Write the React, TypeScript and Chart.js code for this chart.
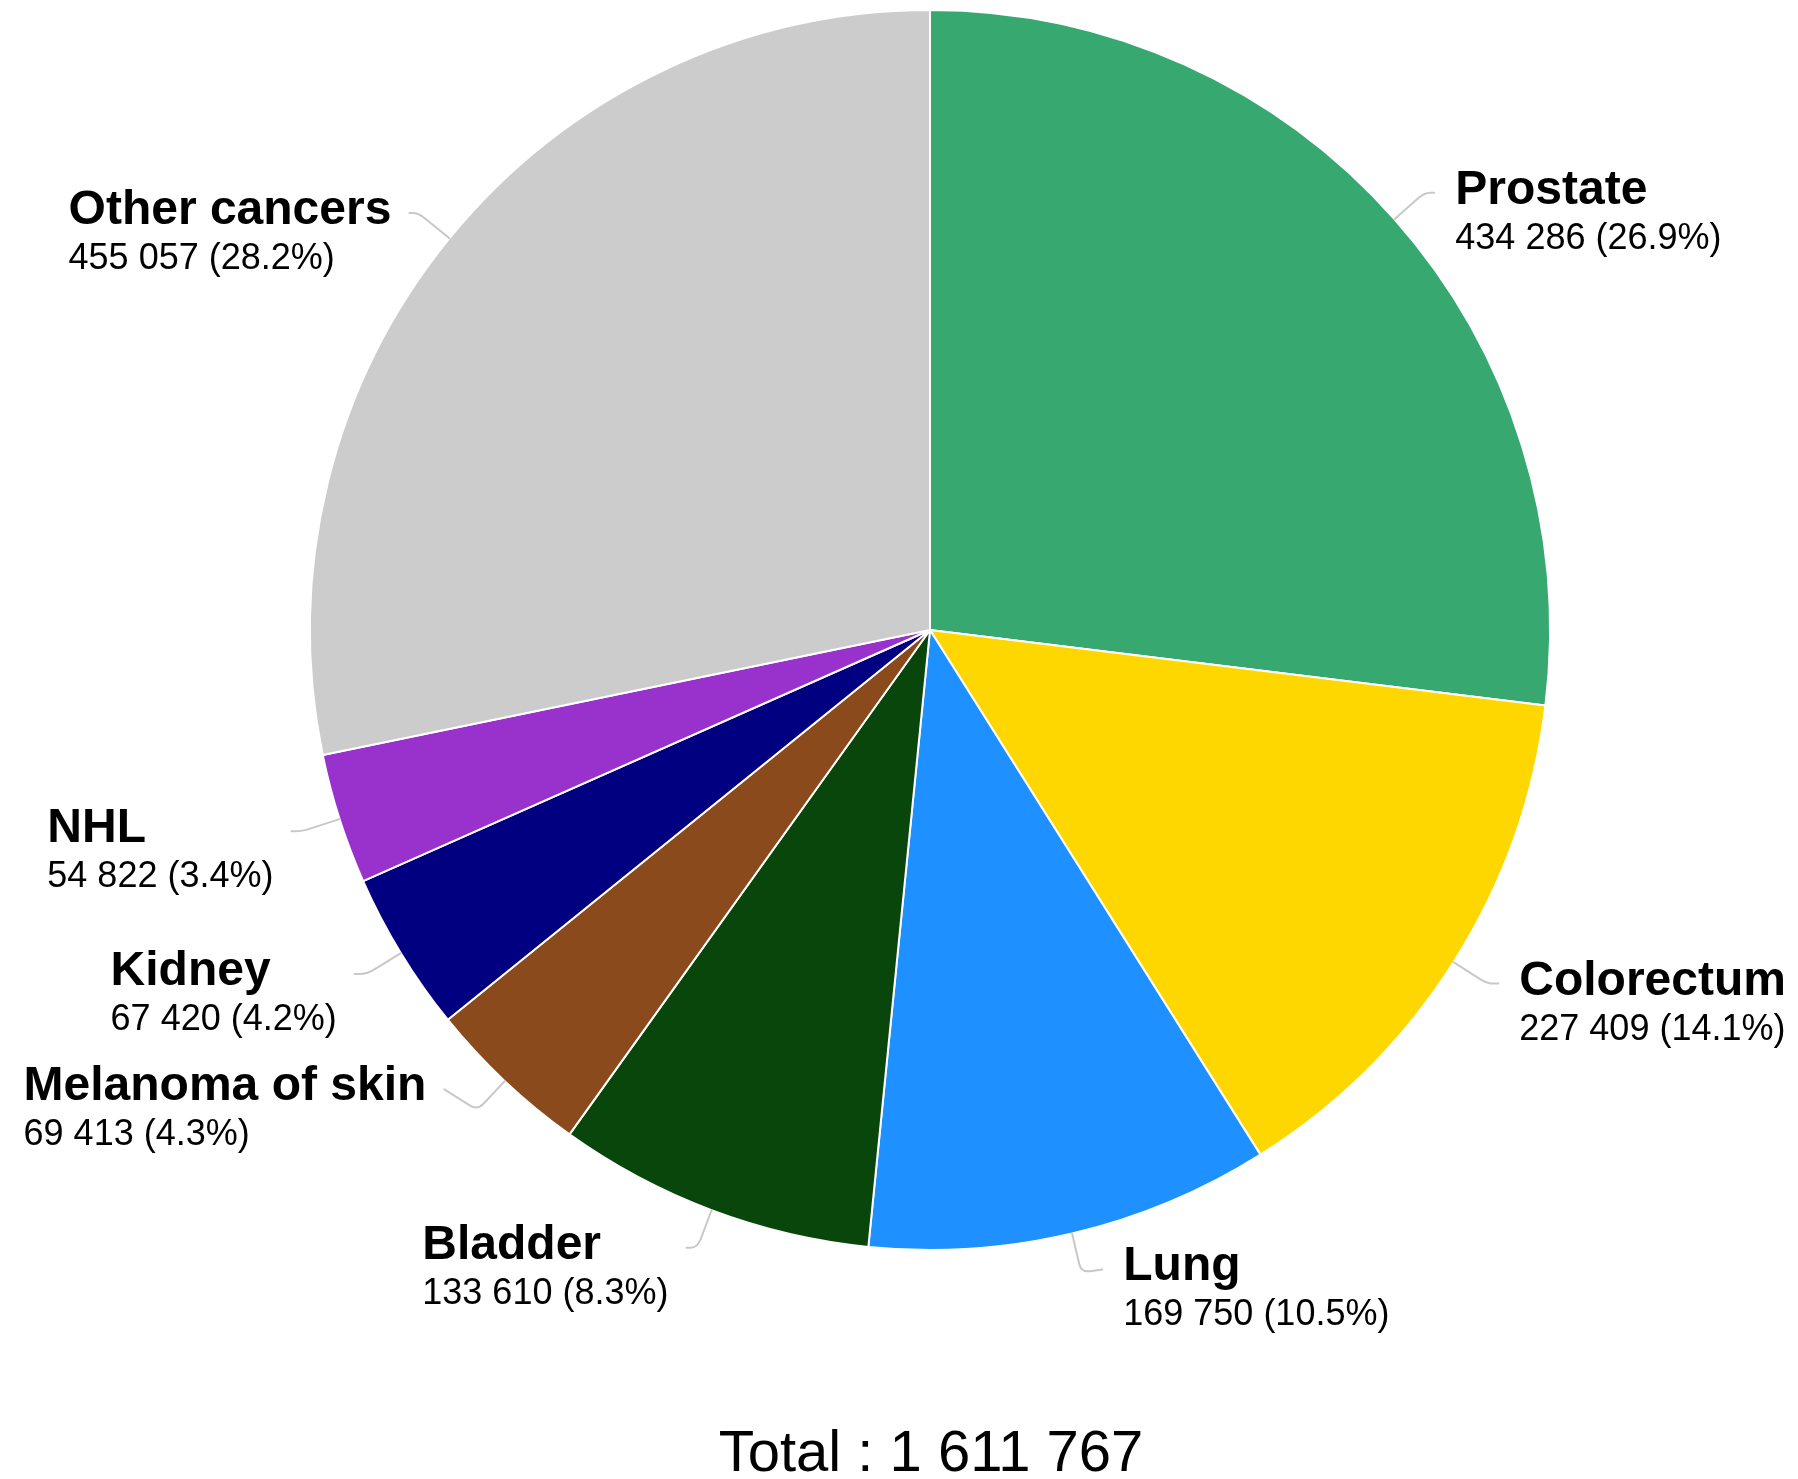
import React, { useEffect, useRef } from "react";
import { Chart, registerables } from "chart.js";

Chart.register(...registerables);

const categories = [
  "Prostate",
  "Colorectum",
  "Lung",
  "Bladder",
  "Melanoma of skin",
  "Kidney",
  "NHL",
  "Other cancers",
];
const values = [434286, 227409, 169750, 133610, 69413, 67420, 54822, 455057];
const colors = [
  "#37A870",
  "#FFD700",
  "#1E90FF",
  "#09460B",
  "#8B4A1B",
  "#000080",
  "#9932CC",
  "#CCCCCC",
];
const totalLabel = "Total : ";

// layout tweaks for the label connectors (horizontal run and vertical nudge)
const connectorRun = [10, 11, 21, 11, 33, 12, 10, 9];
const connectorNudge = [0, 0, -3, 0, -21, 0, 0, 0];

const FONT = "'Liberation Sans', Arial, Helvetica, sans-serif";

function fmt(n: number): string {
  return String(n).replace(/\B(?=(\d{3})+(?!\d))/g, " ");
}

const labelPlugin = {
  id: "pieLabels",
  afterDatasetsDraw(chart: any) {
    const ctx = chart.ctx;
    const meta = chart.getDatasetMeta(0);
    const total = values.reduce((a, b) => a + b, 0);
    ctx.save();
    meta.data.forEach((arc: any, i: number) => {
      const { x, y, startAngle, endAngle, outerRadius } = arc.getProps(
        ["x", "y", "startAngle", "endAngle", "outerRadius"],
        true
      );
      const a = (startAngle + endAngle) / 2;
      const cos = Math.cos(a);
      const sin = Math.sin(a);
      const right = cos >= 0;
      const r0 = outerRadius;
      const r1 = outerRadius + 40;
      const sx = x + cos * r0;
      const sy = y + sin * r0;
      const ex = x + cos * r1;
      const ey = y + sin * r1;
      const dir = right ? 1 : -1;
      const endX = ex + dir * connectorRun[i];
      const endY = ey + connectorNudge[i];
      // soft corner
      const k = 9;
      const ax = ex - cos * k;
      const ay = ey - sin * k;
      const dxe = endX - ex;
      const dye = endY - ey;
      const le = Math.hypot(dxe, dye) || 1;
      const kk = Math.min(k, le * 0.6);
      const bx = ex + (dxe / le) * kk;
      const by = ey + (dye / le) * kk;
      ctx.beginPath();
      ctx.moveTo(sx, sy);
      ctx.lineTo(ax, ay);
      ctx.quadraticCurveTo(ex, ey, bx, by);
      ctx.lineTo(endX, endY);
      ctx.strokeStyle = "#C8C8C8";
      ctx.lineWidth = 2;
      ctx.lineCap = "round";
      ctx.stroke();

      const title = categories[i];
      const sub = `${fmt(values[i])} (${((values[i] / total) * 100).toFixed(1)}%)`;
      ctx.font = `bold 48px ${FONT}`;
      const w1 = ctx.measureText(title).width;
      ctx.font = `36px ${FONT}`;
      const w2 = ctx.measureText(sub).width;
      const bw = Math.max(w1, w2);
      const gap = right ? 21 : 18;
      const left = right ? endX + gap : endX - gap - bw;
      ctx.fillStyle = "#000000";
      ctx.textAlign = "left";
      ctx.textBaseline = "alphabetic";
      ctx.font = `bold 48px ${FONT}`;
      ctx.fillText(title, left, endY + 11);
      ctx.font = `36px ${FONT}`;
      ctx.fillText(sub, left, endY + 56);
    });
    // total
    ctx.font = `58px ${FONT}`;
    ctx.textAlign = "center";
    ctx.textBaseline = "alphabetic";
    ctx.fillStyle = "#000000";
    ctx.fillText(totalLabel + fmt(total), 931, 1471);
    ctx.restore();
  },
};

export default function App() {
  const ref = useRef<HTMLCanvasElement | null>(null);
  useEffect(() => {
    if (!ref.current) return;
    const chart = new Chart(ref.current, {
      type: "pie",
      data: {
        labels: categories,
        datasets: [
          {
            data: values,
            backgroundColor: colors,
            borderColor: "#FFFFFF",
            borderWidth: 2,
          },
        ],
      },
      options: {
        responsive: true,
        maintainAspectRatio: false,
        animation: false,
        devicePixelRatio: 1,
        layout: { padding: { left: 309, right: 247, top: 9, bottom: 228 } },
        plugins: {
          legend: { display: false },
          tooltip: { enabled: false },
        },
      },
      plugins: [labelPlugin],
    });
    return () => chart.destroy();
  }, []);
  return (
    <div
      style={{
        position: "absolute",
        left: 0,
        top: 0,
        width: 1798,
        height: 1479,
        background: "#FFFFFF",
      }}
    >
      <canvas ref={ref} />
    </div>
  );
}
